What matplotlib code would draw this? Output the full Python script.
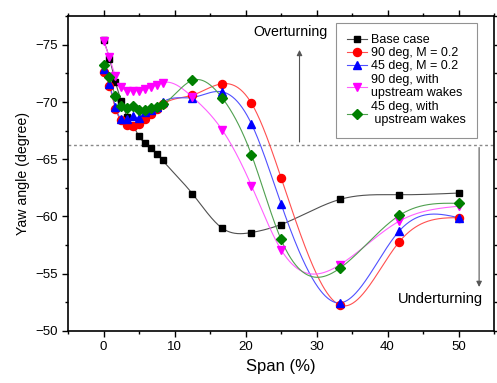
import numpy as np
import matplotlib
matplotlib.use('Agg')
import matplotlib.pyplot as plt
from matplotlib.lines import Line2D

plt.rcParams['font.family'] = ['Liberation Sans', 'DejaVu Sans']

# span positions (%) of the measurement points
span = [0, 0.83, 1.67, 2.5, 3.33, 4.17, 5.0, 5.83, 6.67, 7.5, 8.33,
        12.5, 16.67, 20.83, 25.0, 33.33, 41.67, 50.0]

base_case = [-75.45, -73.8, -71.75, -70.1, -68.7, -67.9, -67.0, -66.4, -66.0, -65.5, -64.9,
             -62.0, -59.0, -58.6, -59.3, -61.5, -61.9, -62.05]
deg90_m02 = [-72.6, -71.4, -69.4, -68.4, -68.0, -67.9, -68.1, -68.5, -69.0, -69.4, -69.8,
             -70.6, -71.6, -69.9, -63.4, -52.25, -57.8, -59.9]
deg45_m02 = [-72.9, -71.6, -69.6, -68.5, -68.5, -68.8, -68.6, -69.1, -69.3, -69.6, -70.0,
             -70.4, -70.9, -68.1, -61.1, -52.45, -58.75, -59.9]
deg90_wakes = [-75.3, -73.9, -72.25, -71.3, -71.0, -71.0, -71.0, -71.1, -71.3, -71.5, -71.7,
               -70.45, -67.6, -62.7, -57.1, -55.8, -59.6, -60.9]
deg45_wakes = [-73.2, -72.2, -70.5, -69.7, -69.5, -69.7, -69.3, -69.3, -69.5, -69.6, -69.8,
               -71.9, -70.4, -65.4, -58.0, -55.5, -60.1, -61.15]

labels = ['Base case', '90 deg, M = 0.2', '45 deg, M = 0.2',
          '90 deg, with\nupstream wakes', '45 deg, with\n upstream wakes']
threshold = -66.27


def smooth(x, y, n=600):
    # natural cubic spline through the points, only used to draw the connecting line
    x = np.asarray(x, float)
    y = np.asarray(y, float)
    k = len(x)
    h = np.diff(x)
    A = np.zeros((k, k))
    b = np.zeros(k)
    A[0, 0] = 1
    A[-1, -1] = 1
    for i in range(1, k - 1):
        A[i, i - 1] = h[i - 1]
        A[i, i] = 2 * (h[i - 1] + h[i])
        A[i, i + 1] = h[i]
        b[i] = 3 * ((y[i + 1] - y[i]) / h[i] - (y[i] - y[i - 1]) / h[i - 1])
    c = np.linalg.solve(A, b)
    xs = np.linspace(x[0], x[-1], n)
    idx = np.clip(np.searchsorted(x, xs) - 1, 0, k - 2)
    dx = xs - x[idx]
    hi = h[idx]
    bb = (y[idx + 1] - y[idx]) / hi - hi * (2 * c[idx] + c[idx + 1]) / 3
    d = (c[idx + 1] - c[idx]) / (3 * hi)
    ys = y[idx] + bb * dx + c[idx] * dx ** 2 + d * dx ** 3
    return xs, ys


fig = plt.figure(figsize=(4.97, 3.83), dpi=100)
ax = fig.add_axes([0.137, 0.136, 0.857, 0.823])

series = [
    (base_case, 'black', '#505050', 's', 5.0),
    (deg90_m02, '#ff0000', '#ff5050', 'o', 5.8),
    (deg45_m02, '#0000ff', '#5050ff', '^', 6.2),
    (deg90_wakes, '#ff00ff', '#ff60ff', 'v', 6.2),
    (deg45_wakes, '#008000', '#50a050', 'D', 4.6),
]

handles = []
for (vals, mcol, lcol, mk, ms), lab in zip(series, labels):
    xs, ys = smooth(span, vals)
    ax.plot(xs, ys, color=lcol, lw=0.8, zorder=2)
    ax.plot(span, vals, linestyle='none', marker=mk, ms=ms, color=mcol, zorder=3)
    handles.append(Line2D([], [], color=lcol, lw=0.8, marker=mk, ms=ms,
                          markerfacecolor=mcol, markeredgecolor=mcol))

ax.axhline(threshold, color='#888888', lw=1, linestyle=(0, (2, 2)), zorder=1)

ax.annotate('', xy=(27.6, -74.8), xytext=(27.6, threshold),
            arrowprops=dict(arrowstyle='-|>', color='#555555', lw=0.8, mutation_scale=8))
ax.text(26.3, -76.1, 'Overturning', ha='center', va='center', fontsize=10.2)
ax.annotate('', xy=(52.9, -53.6), xytext=(52.9, threshold),
            arrowprops=dict(arrowstyle='-|>', color='#555555', lw=0.8, mutation_scale=8))
ax.text(47.4, -52.8, 'Underturning', ha='center', va='center', fontsize=10.5)

ax.set_xlim(-5, 55)
ax.set_ylim(-50, -77.55)
ax.set_xticks([0, 10, 20, 30, 40, 50])
ax.set_xticks(np.arange(-5, 56, 5), minor=True)
ax.set_yticks([-75, -70, -65, -60, -55, -50])
ax.set_yticks(np.arange(-77.5, -49, 2.5), minor=True)
ax.tick_params(which='both', direction='out', top=True, right=True, labelsize=9.5)
ax.tick_params(which='major', length=4, width=1)
ax.tick_params(which='minor', length=2.5, width=1)
for s in ax.spines.values():
    s.set_linewidth(1.2)

ax.set_xlabel('Span (%)', fontsize=12)
ax.set_ylabel('Yaw angle (degree)', fontsize=10.2)

leg = ax.legend(handles, labels, loc='upper right', bbox_to_anchor=(0.96, 0.978),
                fontsize=9, frameon=True, fancybox=False, edgecolor='#777777',
                handlelength=1.6, handletextpad=0.3, labelspacing=0.1,
                borderpad=0.9, borderaxespad=0)
leg.get_frame().set_linewidth(0.8)

fig.savefig('out.png', dpi=100)
